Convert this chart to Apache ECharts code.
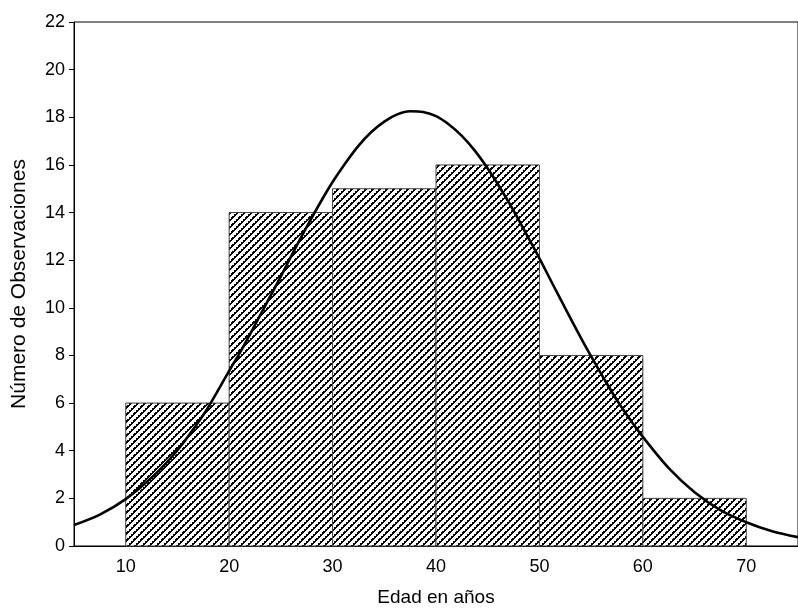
<!DOCTYPE html>
<html>
<head>
<meta charset="utf-8">
<script src="https://cdn.jsdelivr.net/npm/echarts@6/dist/echarts.min.js"></script>
<style>html,body{margin:0;padding:0;background:#fff}#c{width:798px;height:612px}</style>
</head>
<body>
<div id="c"></div>
<script>
// Histogram bins (age ranges) and counts
const binStarts = [10, 20, 30, 40, 50, 60];
const binEnds   = [20, 30, 40, 50, 60, 70];
const counts    = [6, 14, 15, 16, 8, 2];
// Fitted normal curve
const curveX = [5, 7.5, 10, 12.5, 15, 17.5, 18.75, 20, 21.25, 22.5, 23.75, 25, 26.25, 27.5, 28.75, 30, 31.25, 32.5, 33.75, 35, 36.25, 37.5, 38.75, 40, 41.25, 42.5, 43.75, 45, 46.25, 47.5, 48.75, 50, 51.25, 52.5, 53.75, 55, 56.25, 57.5, 58.75, 60, 62.5, 65, 67.5, 70, 72.5, 75];
const curveY = [0.88, 1.32, 1.97, 2.87, 4.02, 5.5, 6.4, 7.35, 8.28, 9.28, 10.3, 11.32, 12.38, 13.4, 14.37, 15.28, 16.08, 16.8, 17.38, 17.82, 18.12, 18.25, 18.22, 18.05, 17.7, 17.22, 16.6, 15.85, 15.0, 14.08, 13.08, 12.08, 11.02, 9.98, 8.95, 7.96, 7.02, 6.12, 5.32, 4.58, 3.27, 2.26, 1.51, 1.0, 0.62, 0.37];
const xTickValues = [10, 20, 30, 40, 50, 60, 70];
const xTitle = 'Edad en años';
const yTitle = 'Número de Observaciones';

const FONT = '"Liberation Sans", Arial, sans-serif';

// hatch pattern: "/" stripes with stepped edges
const P = 7;
const pc = document.createElement('canvas');
pc.width = P; pc.height = P;
const pctx = pc.getContext('2d');
pctx.fillStyle = '#fff'; pctx.fillRect(0, 0, P, P);
pctx.fillStyle = '#000';
for (let y = 0; y < P; y++) {
  for (let x = 0; x < P; x++) {
    const k = (x + y) % P;
    if (k === 1 || k === 2 || (k === 0 && y % 2 === 0)) pctx.fillRect(x, y, 1, 1);
  }
}

const barData = binStarts.map((s, i) => [s, binEnds[i], counts[i]]);
const curveData = curveX.map((x, i) => [x, curveY[i]]);

const chart = echarts.init(document.getElementById('c'), null, {renderer: 'canvas'});
chart.setOption({
  animation: false,
  backgroundColor: '#fff',
  grid: {left: 74, top: 22, width: 730, height: 527, show: true, borderColor: '#000', borderWidth: 1, backgroundColor: 'transparent'},
  xAxis: {
    type: 'value', min: 5, max: 75,
    name: xTitle, nameLocation: 'middle', nameGap: 42,
    nameTextStyle: {fontFamily: FONT, fontSize: 19, color: '#000'},
    axisLine: {show: true, onZero: false, lineStyle: {color: '#000', width: 1}},
    axisTick: {show: false},
    splitLine: {show: false},
    axisLabel: {customValues: xTickValues, fontFamily: FONT, fontSize: 18, color: '#000', margin: 12}
  },
  yAxis: {
    type: 'value', min: 0, max: 22, interval: 2,
    name: yTitle, nameLocation: 'middle', nameGap: 44,
    nameTextStyle: {fontFamily: FONT, fontSize: 21, color: '#000'},
    axisLine: {show: true, lineStyle: {color: '#000', width: 1}},
    axisTick: {show: true, inside: false, length: 5, lineStyle: {color: '#000'}},
    splitLine: {show: false},
    axisLabel: {fontFamily: FONT, fontSize: 18, color: '#000', margin: 9}
  },
  series: [
    {
      type: 'custom',
      data: barData,
      encode: {x: [0, 1], y: 2},
      renderItem: function (params, api) {
        const p0 = api.coord([api.value(0), api.value(2)]);
        const p1 = api.coord([api.value(1), 0]);
        return {
          type: 'rect',
          shape: {x: p0[0], y: p0[1], width: p1[0] - p0[0], height: p1[1] - p0[1]},
          style: {fill: {image: pc, repeat: 'repeat'}, stroke: '#444', lineWidth: 1}
        };
      },
      z: 2
    },
    {
      type: 'line',
      data: curveData,
      smooth: 0.3,
      symbol: 'none',
      lineStyle: {color: '#000', width: 2.6},
      z: 3
    }
  ]
});
</script>
</body>
</html>
